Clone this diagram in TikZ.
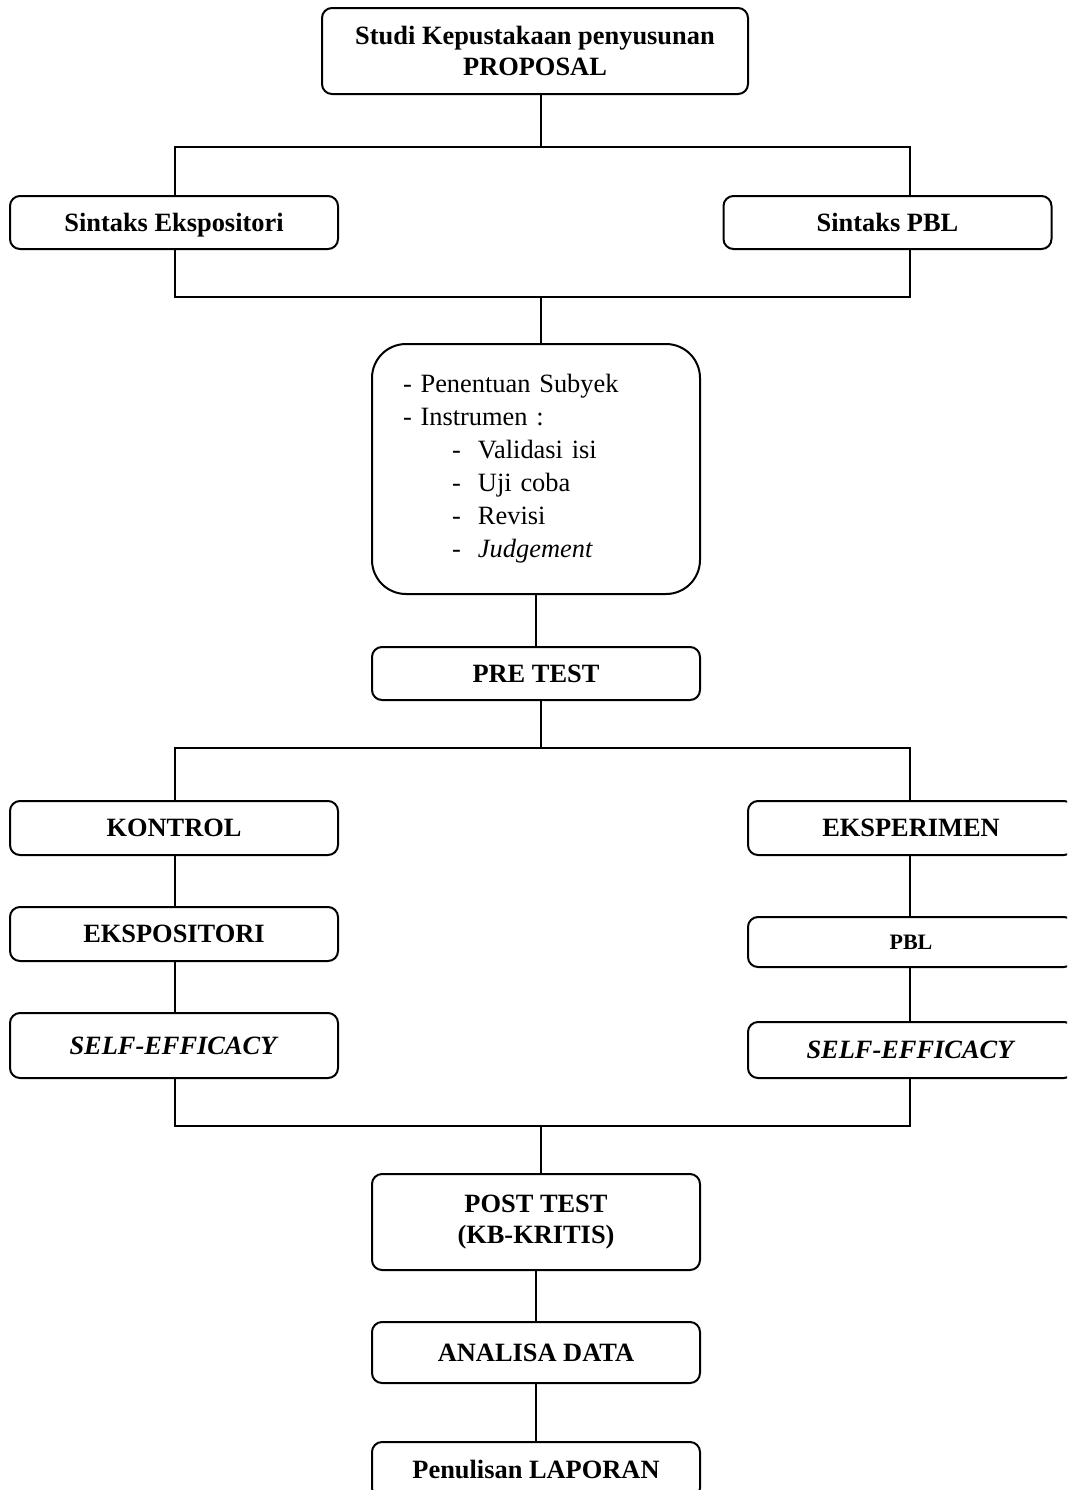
\documentclass[tikz,border=0pt]{standalone}
\usepackage{fontspec}
\setmainfont{Liberation Serif}
\usetikzlibrary{positioning}
\tikzset{
  stagebox/.style={draw, line width=1pt, rounded corners=5pt,
    minimum width=164pt, minimum height=26.5pt, inner sep=2pt,
    text height=10pt, text depth=1.3pt,
    align=center, font=\fontsize{13.2}{15.5}\selectfont\bfseries},
  twoline/.style={text height=, text depth=},
  listbox/.style={draw, line width=1pt, rounded corners=17pt,
    minimum width=164pt, minimum height=125pt, inner xsep=15.5pt,
    text width=133pt, align=left, font=\fontsize{13.2}{16.5}\selectfont},
  link/.style={line width=1pt}
}
\newcommand{\instrstep}[1]{\hspace*{24.5pt}-\hspace{8.6pt}#1}
\begin{document}
\begin{tikzpicture}[x=0.5pt, y=-0.5pt]
  \useasboundingbox (0,0) rectangle (1067,1490);
  \clip (0,0) rectangle (1067,1490);

  % boxes
  \node[stagebox, twoline, minimum width=213pt, minimum height=43pt] (prop) at (535,51)
    {Studi Kepustakaan penyusunan\\PROPOSAL};
  \node[stagebox] (sinE) at (174,222.5) {Sintaks Ekspositori};
  \node[stagebox] (sinP) at (887.5,222.5) {Sintaks PBL};
  \node[listbox] (prep) at (536,469)
    {- Penentuan Subyek\\
     - Instrumen :\\
     \instrstep{Validasi isi}\\
     \instrstep{Uji coba}\\
     \instrstep{Revisi}\\
     \instrstep{\textit{Judgement}}};
  \node[stagebox] (pre) at (536,673.5) {PRE TEST};

  \node[stagebox, minimum height=27pt] (kon) at (174,828) {KONTROL};
  \node[stagebox, minimum height=27pt] (ekspo) at (174,934) {EKSPOSITORI};
  \node[stagebox, minimum height=32.5pt] (selfL) at (174,1045.5) {\textit{SELF-EFFICACY}};

  \node[stagebox, minimum width=163pt, minimum height=27pt] (eksp) at (911,828) {EKSPERIMEN};
  \node[stagebox, minimum width=163pt, minimum height=25pt, text height=8.5pt, text depth=1.2pt,
        font=\fontsize{11}{13}\selectfont\bfseries] (pbl) at (911,942) {PBL};
  \node[stagebox, minimum width=163pt, minimum height=28pt] (selfR) at (911,1050) {\textit{SELF-EFFICACY}};

  \node[stagebox, twoline, minimum height=48pt] (post) at (536,1222) {POST TEST\\(KB-KRITIS)};
  \node[stagebox, minimum height=30.5pt] (ana) at (536,1352.5) {ANALISA DATA};
  \node[stagebox, minimum height=28pt] (lap) at (536,1470) {Penulisan LAPORAN};

  % bus junctions
  \coordinate (b1) at (541,147);  \coordinate (b1L) at (175,147);  \coordinate (b1R) at (910,147);
  \coordinate (b2) at (541,297);  \coordinate (b2L) at (175,297);  \coordinate (b2R) at (910,297);
  \coordinate (b3) at (541,748);  \coordinate (b3L) at (175,748);  \coordinate (b3R) at (910,748);
  \coordinate (b4) at (541,1126); \coordinate (b4L) at (175,1126); \coordinate (b4R) at (910,1126);

  % connectors
  \draw[link] (b1 |- prop.south) -- (b1);
  \draw[link] (b1L |- sinE.north) -- (b1L) -- (b1R) -- (b1R |- sinP.north);
  \draw[link] (b2L |- sinE.south) -- (b2L) -- (b2R) -- (b2R |- sinP.south);
  \draw[link] (b2) -- (b2 |- prep.north);
  \draw[link] (prep) -- (pre);
  \draw[link] (b3 |- pre.south) -- (b3);
  \draw[link] (b3L |- kon.north) -- (b3L) -- (b3R) -- (b3R |- eksp.north);
  \draw[link] (b3L |- kon.south) -- (b3L |- ekspo.north);
  \draw[link] (b3L |- ekspo.south) -- (b3L |- selfL.north);
  \draw[link] (b3R |- eksp.south) -- (b3R |- pbl.north);
  \draw[link] (b3R |- pbl.south) -- (b3R |- selfR.north);
  \draw[link] (b4L |- selfL.south) -- (b4L) -- (b4R) -- (b4R |- selfR.south);
  \draw[link] (b4) -- (b4 |- post.north);
  \draw[link] (post) -- (ana);
  \draw[link] (ana) -- (lap);
\end{tikzpicture}
\end{document}
